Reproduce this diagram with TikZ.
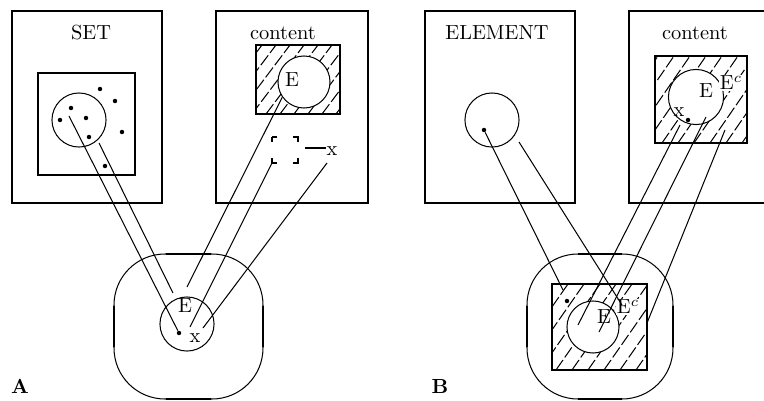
\documentclass[tikz,border=0pt]{standalone}
\begin{document}
\begin{tikzpicture}[x=0.49pt,y=-0.49pt,
    frame/.style={line width=1pt},
    link/.style={line width=0.5pt},
    ring/.style={circle,draw,line width=0.5pt,inner sep=0pt,minimum size=#1},
    dot/.style={circle,fill,inner sep=0pt,minimum size=2.2pt},
    hatch/.style={line width=0.5pt,dash pattern=on 6pt off 1.5pt},
    hub/.style={line width=0.5pt,rounded corners=25pt},
    hubside/.style={line width=1pt}]
  \useasboundingbox (0,0) rectangle (764,401);

  % panel A: SET
  \draw[frame] (12,11) rectangle (162,203);
  \node (set) at (91,33) {SET};
  \draw[frame] (38,73) rectangle (135,175);
  \node[ring=26.5pt] (setdisc) at (79,120) {};
  \draw
    (71,108) node[dot] (s1){}
    (60,120) node[dot] (s2){}
    (86,118) node[dot] (s3){}
    (89,137) node[dot] (s4){}
    (100,89) node[dot] (s5){}
    (115,101) node[dot] (s6){}
    (122,132) node[dot] (s7){}
    (105,166) node[dot] (s8){};
  \coordinate (setA) at (69,116);
  \coordinate (setB) at (99,143);

  % panel A: content
  \draw[frame] (216,11) rectangle (368,203);
  \node (contA) at (283,33) {content};
  \begin{scope}
    \clip (256,45) rectangle (340,114);
    \foreach \u in {196,210,...,350}
      \draw[hatch] (\u,114) -- ++(52,-69);
  \end{scope}
  \node[ring=25.5pt,fill=white] (discA) at (304,82) {};
  \draw[frame] (256,45) rectangle (340,114);
  \node (eA) at (292,80) {E};
  \draw[frame,dash pattern=on 2.5pt off 7.7pt on 2.5pt off 0pt]
    (272,137) rectangle (298,163);
  \coordinate (slot) at (272,163);
  \node[inner sep=0pt] (xA) at (332,151) {x};
  \coordinate (xtail) at (305,148);
  \draw[frame] (xtail) -- (xtail -| xA.west);
  \coordinate (xAfoot) at (327,163);

  % panel A: hub
  \draw[hub] (114,254) rectangle (263,399);
  \draw[hubside] (114,306) -- (114,347) (263,306) -- (263,347)
    (166,254) -- (211,254) (166,399) -- (211,399);
  \node[ring=26.5pt] (hubdiscA) at (187,324) {};
  \node (hubeA) at (185,306) {E};
  \node[dot] (hubxA) at (179,333) {};
  \node (hubxlA) at (195,338) {x};
  \coordinate (endA2) at (173,293);
  \coordinate (endA3) at (187,287);
  \coordinate (endA4) at (190,327);
  \coordinate (endA5) at (203,328);

  \draw[link] (setA) -- (hubxA);
  \draw[link] (setB) -- (endA2);
  \draw[link] (discA.215) -- (endA3);
  \draw[link] (slot) -- (endA4);
  \draw[link] (xAfoot) -- (endA5);

  \node[font=\bfseries] (labA) at (20,386) {A};

  % panel B: ELEMENT
  \draw[frame] (425,11) rectangle (575,203);
  \node (elem) at (497,33) {ELEMENT};
  \node[ring=26.5pt] (elemdisc) at (492,120) {};
  \node[dot] (elemdot) at (484,130) {};
  \coordinate (elemB) at (519,142);

  % panel B: content
  \draw[frame] (764,11) -| (629,203) -- (764,203);
  \node (contB) at (695,33) {content};
  \begin{scope}
    \clip (655,56) rectangle (747,143);
    \foreach \u in {598,614,...,760}
      \draw[hatch] (\u,143) -- ++(60,-87);
  \end{scope}
  \node[ring=27pt,fill=white] (discB) at (696,97) {};
  \draw[frame] (655,56) rectangle (747,143);
  \node (eB) at (706,91) {E};
  \node[fill=white,inner sep=0.5pt] (ecB) at (731,83) {E$^c$};
  \node (xB) at (679,112) {x};
  \node[dot] (dotB) at (688,120) {};
  \coordinate (startB1) at (680,125);
  \coordinate (startB2) at (706,117);
  \coordinate (startB3) at (725,130);

  % panel B: hub
  \draw[hub] (527,254) rectangle (673,399);
  \draw[hubside] (527,306) -- (527,347) (673,306) -- (673,347)
    (578,254) -- (622,254) (578,399) -- (622,399);
  \begin{scope}
    \clip (552,284) rectangle (647,370);
    \foreach \u in {492,508,...,660}
      \draw[hatch] (\u,370) -- ++(60,-86);
  \end{scope}
  \node[ring=25.5pt,fill=white] (hubdiscB) at (593,327) {};
  \draw[frame] (552,284) rectangle (647,370);
  \node (hubeB) at (604,317) {E};
  \node[fill=white,inner sep=0.5pt] (hubecB) at (628,307) {E$^c$};
  \node[dot] (hubdotB) at (567,301) {};
  \coordinate (endB1) at (563,290);
  \coordinate (endB2) at (622,305);
  \coordinate (endB3) at (578,325);
  \coordinate (endB4) at (599,332);
  \coordinate (endB5) at (647,323);

  \draw[link] (elemdot) -- (endB1);
  \draw[link] (elemB) -- (endB2);
  \draw[link] (startB1) -- (endB3);
  \draw[link] (startB2) -- (endB4);
  \draw[link] (startB3) -- (endB5);

  \node[font=\bfseries] (labB) at (440,386) {B};
\end{tikzpicture}
\end{document}
